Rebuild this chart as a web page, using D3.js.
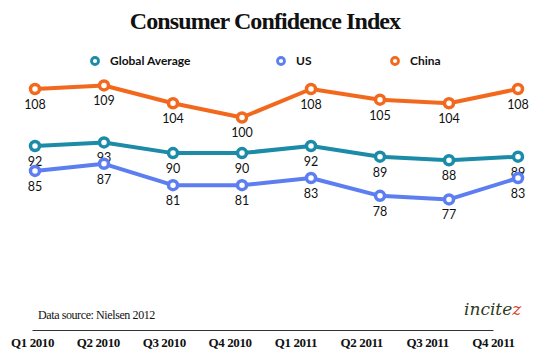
<!DOCTYPE html>
<html>
<head>
<meta charset="utf-8">
<script src="https://cdn.jsdelivr.net/npm/d3@7"></script>
<style>
  body { margin: 0; background: #fff; }
  svg { display: block; }
</style>
</head>
<body>
<svg id="chart" width="550" height="358"></svg>
<script>
const quarters = ['Q1 2010', 'Q2 2010', 'Q3 2010', 'Q4 2010', 'Q1 2011', 'Q2 2011', 'Q3 2011', 'Q4 2011'];
const globalAvg = [92, 93, 90, 90, 92, 89, 88, 89];
const us = [85, 87, 81, 81, 83, 78, 77, 83];
const china = [108, 109, 104, 100, 108, 105, 104, 108];

const series = [
  { name: 'Global Average', values: globalAvg, color: '#1b8ba8', legendX: 95 },
  { name: 'US', values: us, color: '#5c7ef0', legendX: 281 },
  { name: 'China', values: china, color: '#f2691e', legendX: 395 }
];

const svg = d3.select('#chart');

const x = d3.scalePoint().domain(quarters).range([35, 518]);
const xLabels = d3.scalePoint().domain(quarters).range([32, 493]);
const y = d3.scaleLinear().domain([77, 108]).range([199.4, 89]);

// title
svg.append('text')
  .attr('x', 265).attr('y', 29)
  .attr('text-anchor', 'middle')
  .attr('font-family', 'Liberation Serif, serif')
  .attr('font-weight', 'bold')
  .attr('font-size', 24)
  .attr('letter-spacing', -0.9)
  .attr('fill', '#111')
  .text('Consumer Confidence Index');

// legend
const legend = svg.append('g').selectAll('g')
  .data(series)
  .enter().append('g')
  .attr('transform', d => `translate(${d.legendX},61)`);

legend.append('circle')
  .attr('r', 3.5)
  .attr('fill', '#fff')
  .attr('stroke', d => d.color)
  .attr('stroke-width', 2.8);

legend.append('text')
  .attr('x', 15).attr('y', 4)
  .attr('font-family', 'Lato, sans-serif')
  .attr('font-weight', 'bold')
  .attr('font-size', 12)
  .attr('fill', '#111')
  .text(d => d.name);

const line = d3.line()
  .x((d, i) => x(quarters[i]))
  .y(d => y(d));

const groups = svg.append('g').selectAll('g')
  .data(series)
  .enter().append('g');

groups.append('path')
  .attr('d', d => line(d.values))
  .attr('fill', 'none')
  .attr('stroke', d => d.color)
  .attr('stroke-width', 4)
  .attr('stroke-linejoin', 'round');

groups.selectAll('circle')
  .data(d => d.values.map((v, i) => ({ v, i, color: d.color })))
  .enter().append('circle')
  .attr('cx', d => x(quarters[d.i]))
  .attr('cy', d => y(d.v))
  .attr('r', 4.5)
  .attr('fill', '#fff')
  .attr('stroke', d => d.color)
  .attr('stroke-width', 3.5);

groups.selectAll('text')
  .data(d => d.values.map((v, i) => ({ v, i })))
  .enter().append('text')
  .attr('x', d => x(quarters[d.i]))
  .attr('y', d => y(d.v) + 20)
  .attr('text-anchor', 'middle')
  .attr('font-family', 'Lato, sans-serif')
  .attr('font-size', 12.5)
  .attr('fill', '#111')
  .text(d => d.v);

// data source + logo
svg.append('text')
  .attr('x', 38).attr('y', 319)
  .attr('font-family', 'Liberation Serif, serif')
  .attr('font-size', 12)
  .attr('letter-spacing', -0.4)
  .attr('fill', '#111')
  .text('Data source: Nielsen 2012');

const logo = svg.append('text')
  .attr('x', 464).attr('y', 315)
  .attr('font-family', 'DejaVu Serif, serif')
  .attr('font-style', 'italic')
  .attr('font-size', 17)
  .attr('fill', '#2f3a22');
logo.append('tspan').text('incite');
logo.append('tspan').attr('fill', '#d8432a').text('z');

// x axis
const axis = svg.append('g')
  .attr('transform', 'translate(0,330)')
  .call(d3.axisBottom(xLabels).tickSize(0).tickPadding(8));

axis.select('.domain').attr('stroke', '#333').attr('stroke-width', 1);
axis.selectAll('text')
  .attr('font-family', 'Liberation Serif, serif')
  .attr('font-weight', 'bold')
  .attr('font-size', 13)
  .attr('letter-spacing', -0.4)
  .attr('fill', '#111');
</script>
</body>
</html>
